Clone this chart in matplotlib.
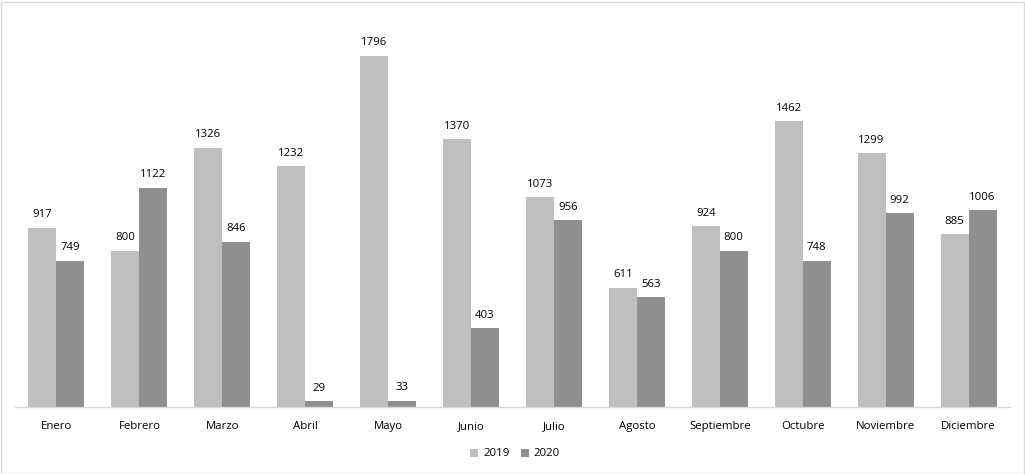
import matplotlib
matplotlib.use("Agg")
import matplotlib.pyplot as plt
import numpy as np
from matplotlib.patches import Rectangle

months = ["Enero", "Febrero", "Marzo", "Abril", "Mayo", "Junio", "Julio",
          "Agosto", "Septiembre", "Octubre", "Noviembre", "Diciembre"]
v2019 = [917, 800, 1326, 1232, 1796, 1370, 1073, 611, 924, 1462, 1299, 885]
v2020 = [749, 1122, 846, 29, 33, 403, 956, 563, 800, 748, 992, 1006]

plt.rcParams['font.family'] = ['Open Sans', 'DejaVu Sans']

fig = plt.figure(figsize=(10.25, 4.74), dpi=100)
ax = fig.add_axes([15/1025, 67/474, 995/1025, 391/474])

x = np.arange(len(months))
w = 0.338
c1, c2 = "#BFBFBF", "#8F8F8F"
b1 = ax.bar(x - w/2, v2019, w, color=c1, label="2019")
b2 = ax.bar(x + w/2, v2020, w, color=c2, label="2020")

fs = 8.2
for bars in (b1, b2):
    for r in bars:
        ax.text(r.get_x() + r.get_width()/2, r.get_height() + 38, f"{int(r.get_height())}",
                ha="center", va="bottom", fontsize=fs, color="#000000")

ax.set_xlim(-0.5, len(months) - 0.5)
ax.set_ylim(0, 2000)
ax.set_xticks(x)
ax.set_xticklabels(months, fontsize=fs)
ax.tick_params(axis='x', length=0, pad=10)
ax.set_yticks([])
for s in ("top", "right", "left"):
    ax.spines[s].set_visible(False)
ax.spines["bottom"].set_color("#D9D9D9")
ax.spines["bottom"].set_linewidth(1.0)

leg = fig.legend(handles=[b1, b2], labels=["2019", "2020"], loc="center",
                 bbox_to_anchor=(515/1025, 1 - 454/474), ncol=2, frameon=False,
                 fontsize=fs, handlelength=0.7, handleheight=0.7, columnspacing=1.0,
                 handletextpad=0.4)

fig.patches.append(Rectangle((0.5/1025, 0.5/474), 1 - 2/1025, 1 - 2/474,
                             transform=fig.transFigure, fill=False,
                             edgecolor="#D9D9D9", linewidth=1.0))

fig.savefig("out.png", dpi=100)
